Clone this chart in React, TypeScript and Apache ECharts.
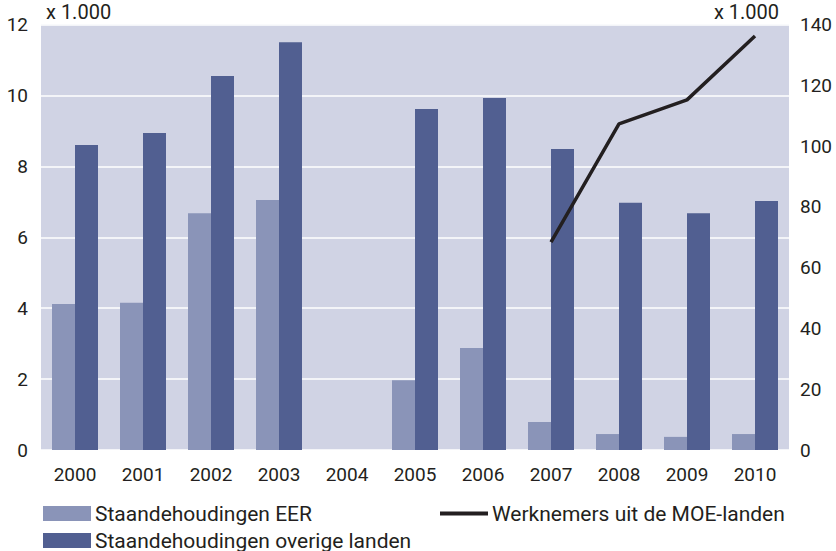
import React, { useEffect, useRef } from "react";
import * as echarts from "echarts";

const years = ["2000", "2001", "2002", "2003", "2004", "2005", "2006", "2007", "2008", "2009", "2010"];
const eer = [4.12, 4.15, 6.68, 7.05, 0, 1.97, 2.88, 0.79, 0.45, 0.37, 0.45];
const overige = [8.6, 8.94, 10.55, 11.5, 0, 9.62, 9.93, 8.49, 6.97, 6.68, 7.02];
const moe = [null, null, null, null, null, null, null, 68.4, 107.3, 115.2, 136.2];
const leftTicks = [0, 12, 2];
const rightTicks = [0, 140, 20];

const FONT = "Roboto";
const TXT = "#231f20";

export default function App() {
  const ref = useRef<HTMLDivElement>(null);
  useEffect(() => {
    const chart = echarts.init(ref.current!, undefined, { renderer: "svg" });
    const legText = { fontSize: 21, color: TXT, fontFamily: FONT, padding: [0, 0, 0, -1] };
    chart.setOption({
      animation: false,
      textStyle: { fontFamily: FONT },
      grid: { left: 41, right: 47, top: 24.5, bottom: 101, containLabel: false, show: true, backgroundColor: "#d0d3e4", borderWidth: 0 },
      legend: [
        {
          data: ["Staandehoudingen EER"], left: 38, top: 498, itemWidth: 48, itemHeight: 15,
          textStyle: legText, icon: "rect",
        },
        {
          data: ["Staandehoudingen overige landen"], left: 38, top: 525, itemWidth: 48, itemHeight: 15,
          textStyle: legText, icon: "rect",
        },
        {
          data: [{ name: "Werknemers uit de MOE-landen", icon: "rect", itemStyle: { color: "#231f20" } }],
          left: 435, top: 498, itemWidth: 48, itemHeight: 4,
          textStyle: legText,
        },
      ],
      xAxis: {
        type: "category", data: years,
        axisLine: { show: false }, axisTick: { show: false },
        axisLabel: { fontSize: 19, color: TXT, margin: 15, fontFamily: FONT },
      },
      yAxis: [
        {
          type: "value", min: leftTicks[0], max: leftTicks[1], interval: leftTicks[2],
          axisLine: { show: false }, axisTick: { show: false },
          axisLabel: { fontSize: 19, color: TXT, margin: 13, fontFamily: FONT },
          splitLine: { lineStyle: { color: "#ffffff", width: 1.5 } },
        },
        {
          type: "value", min: rightTicks[0], max: rightTicks[1], interval: rightTicks[2],
          axisLine: { show: false }, axisTick: { show: false },
          axisLabel: { fontSize: 19, color: TXT, margin: 11, fontFamily: FONT },
          splitLine: { show: false },
        },
      ],
      series: [
        {
          name: "Staandehoudingen EER", type: "bar", data: eer, barWidth: 23, barGap: "0%",
          itemStyle: { color: "#8a94b8" },
        },
        {
          name: "Staandehoudingen overige landen", type: "bar", data: overige, barWidth: 23, barGap: "0%",
          itemStyle: { color: "#515f91" },
        },
        {
          name: "Werknemers uit de MOE-landen", type: "line", yAxisIndex: 1, data: moe,
          symbol: "none", lineStyle: { color: "#231f20", width: 3.5 }, itemStyle: { color: "#231f20" },
        },
      ],
      graphic: [
        { type: "text", left: 46, top: 2, style: { text: "x 1.000", fontSize: 20, fill: TXT, fontFamily: FONT } },
        { type: "text", right: 57, top: 2, style: { text: "x 1.000", fontSize: 20, fill: TXT, fontFamily: FONT } },
      ],
    });
    return () => chart.dispose();
  }, []);
  return <div ref={ref} style={{ width: 836, height: 551, position: "absolute", left: 0, top: 0, background: "#fff" }} />;
}
